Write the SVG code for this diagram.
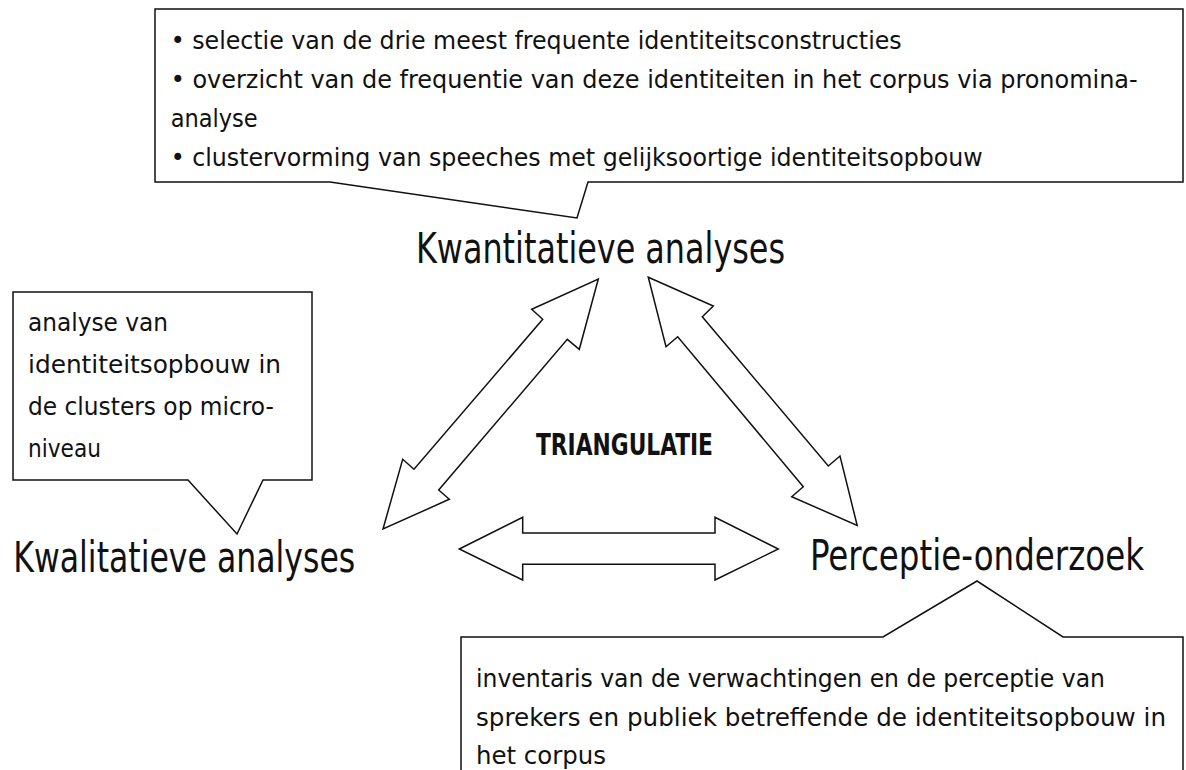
<svg xmlns="http://www.w3.org/2000/svg" width="1186" height="770" viewBox="0 0 1186 770">
  <style>
    .txt { font-family: "Liberation Sans Narrow", "DejaVu Sans Condensed", "Liberation Sans", sans-serif; fill: #111; }
    .note { font-size: 25.5px; }
    .label { font-size: 42px; }
    .core { font-size: 30px; font-weight: bold; }
    .shape { fill: #fff; stroke: #111; stroke-width: 1.5; stroke-linejoin: miter; }
  </style>
  <rect width="1186" height="770" fill="#fff"/>

  <!-- double-headed block arrows between the three methods -->
  <g id="connectors">
    <polygon class="shape" points="598.3,279 579.3,349.3 567.3,339.3 438.7,490 449.3,499.3 383,529 402.7,459.3 414,469.3 542.7,319.3 531.7,309.3"/>
    <polygon class="shape" points="648.3,277.3 713.3,306 702.3,316.7 828.3,466 840,456 857.2,525.5 791.7,496.7 803.3,486.7 677.7,336.7 666,346.7"/>
    <polygon class="shape" points="459.3,549 522.7,517.3 522.7,533 715,533 715,517.3 778.3,549 715,580 715,564.3 522.7,564.3 522.7,580"/>
  </g>

  <!-- quantitative analyses -->
  <g id="node-kwantitatief">
    <path class="shape" d="M155,9 H1183 V182 H588 L577,218 L330,182 H155 Z"/>
    <text class="txt note" x="170.7" y="49" textLength="731" lengthAdjust="spacingAndGlyphs">• selectie van de drie meest frequente identiteitsconstructies</text>
    <text class="txt note" x="170.7" y="88" textLength="967" lengthAdjust="spacingAndGlyphs">• overzicht van de frequentie van deze identiteiten in het corpus via pronomina-</text>
    <text class="txt note" x="170.7" y="127" textLength="87" lengthAdjust="spacingAndGlyphs">analyse</text>
    <text class="txt note" x="170.7" y="166" textLength="812" lengthAdjust="spacingAndGlyphs">• clustervorming van speeches met gelijksoortige identiteitsopbouw</text>
    <text class="txt label" x="416" y="263" textLength="369" lengthAdjust="spacingAndGlyphs">Kwantitatieve analyses</text>
  </g>

  <!-- qualitative analyses -->
  <g id="node-kwalitatief">
    <path class="shape" d="M13,292 H312 V480 H263 L237,534 L188,480 H13 Z"/>
    <text class="txt note" x="28" y="331" textLength="140" lengthAdjust="spacingAndGlyphs">analyse van</text>
    <text class="txt note" x="28" y="373" textLength="253" lengthAdjust="spacingAndGlyphs">identiteitsopbouw in</text>
    <text class="txt note" x="28" y="415" textLength="246" lengthAdjust="spacingAndGlyphs">de clusters op micro-</text>
    <text class="txt note" x="28" y="457" textLength="73" lengthAdjust="spacingAndGlyphs">niveau</text>
    <text class="txt label" x="13.3" y="572" textLength="342" lengthAdjust="spacingAndGlyphs">Kwalitatieve analyses</text>
  </g>

  <!-- perception research -->
  <g id="node-perceptie">
    <path class="shape" d="M461,790 V637 H883 L977,581 L1063,637 H1183 V790"/>
    <text class="txt label" x="810" y="570" textLength="334" lengthAdjust="spacingAndGlyphs">Perceptie-onderzoek</text>
    <text class="txt note" x="476" y="687" textLength="629" lengthAdjust="spacingAndGlyphs">inventaris van de verwachtingen en de perceptie van</text>
    <text class="txt note" x="476" y="726" textLength="690" lengthAdjust="spacingAndGlyphs">sprekers en publiek betreffende de identiteitsopbouw in</text>
    <text class="txt note" x="476" y="764" textLength="130" lengthAdjust="spacingAndGlyphs">het corpus</text>
  </g>

  <!-- centre label -->
  <g id="node-triangulatie">
    <text class="txt core" x="536" y="455" textLength="177" lengthAdjust="spacingAndGlyphs">TRIANGULATIE</text>
  </g>
</svg>
